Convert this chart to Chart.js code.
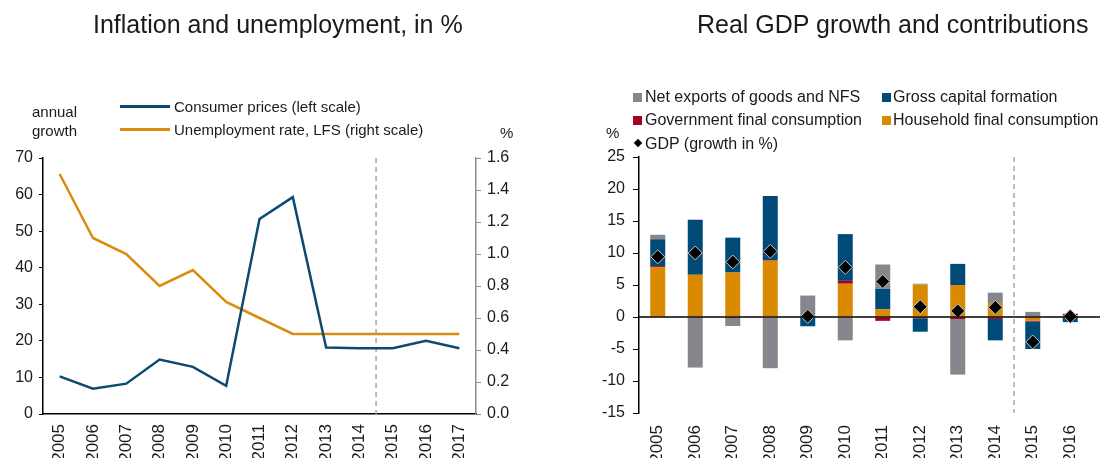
<!DOCTYPE html>
<html>
<head>
<meta charset="utf-8">
<script src="https://cdn.jsdelivr.net/npm/chart.js@4/dist/chart.umd.min.js"></script>
<style>
  body { margin: 0; background: #fff; font-family: "Liberation Sans", Arial, sans-serif; color: #1a1a1a; }
  #page { position: relative; width: 1100px; height: 458px; overflow: hidden; }
  .box { position: absolute; top: 0; height: 458px; }
  .txt { position: absolute; white-space: nowrap; line-height: 1; }
  .title { font-size: 25px; top: 12px; }
  .leg { font-size: 15px; }
  .leg2 { font-size: 16px; }
  .sw { position: absolute; width: 9px; height: 9px; }
  .ln { position: absolute; width: 50px; height: 3px; }
</style>
</head>
<body>
<div id="page">
  <div class="box" style="left:0;width:550px"><canvas id="inflationChart"></canvas></div>
  <div class="box" style="left:590px;width:510px"><canvas id="gdpChart"></canvas></div>

  <div class="txt title" style="left:93px">Inflation and unemployment, in %</div>
  <div class="txt title" style="left:697px">Real GDP growth and contributions</div>

  <!-- left legend -->
  <div class="txt leg" style="left:32px;top:102px;line-height:19px">annual<br>growth</div>
  <div class="ln" style="left:120px;top:105px;background:#0d4a70"></div>
  <div class="txt leg" style="left:174px;top:99px">Consumer prices (left scale)</div>
  <div class="ln" style="left:120px;top:128px;background:#d98c10"></div>
  <div class="txt leg" style="left:174px;top:122px">Unemployment rate, LFS (right scale)</div>
  <div class="txt leg" style="left:500px;top:125px">%</div>

  <!-- right legend -->
  <div class="sw" style="left:633px;top:93px;background:#86868c"></div>
  <div class="txt leg2" style="left:645px;top:89px">Net exports of goods and NFS</div>
  <div class="sw" style="left:882px;top:93px;background:#004a78"></div>
  <div class="txt leg2" style="left:893px;top:89px">Gross capital formation</div>
  <div class="sw" style="left:633px;top:116px;background:#a8001e"></div>
  <div class="txt leg2" style="left:645px;top:112px">Government final consumption</div>
  <div class="sw" style="left:882px;top:116px;background:#d98a00"></div>
  <div class="txt leg2" style="left:893px;top:112px">Household final consumption</div>
  <div class="sw" style="left:635px;top:140px;width:6px;height:6px;background:#000;transform:rotate(45deg)"></div>
  <div class="txt leg2" style="left:645px;top:136px">GDP (growth in %)</div>
  <div class="txt leg" style="left:606px;top:125px">%</div>
</div>

<script>
const years = ['2005','2006','2007','2008','2009','2010','2011','2012','2013','2014','2015','2016','2017'];
const consumerPrices = [10.3, 6.9, 8.3, 14.9, 12.9, 7.7, 53.3, 59.3, 18.2, 18.0, 18.0, 20.0, 18.0];
const unemployment = [1.5, 1.1, 1.0, 0.8, 0.9, 0.7, 0.6, 0.5, 0.5, 0.5, 0.5, 0.5, 0.5];

const gdpYears = ['2005','2006','2007','2008','2009','2010','2011','2012','2013','2014','2015','2016'];
const household = [7.8, 6.6, 6.95, 8.8, 0, 5.2, 1.2, 5.05, 5.0, 2.2, -0.6, 0.3];
const government = [0.15, 0, -0.15, 0.1, 0, 0.45, -0.6, -0.2, -0.35, -0.3, -0.1, 0.2];
const capital = [4.2, 8.6, 5.45, 10.0, -1.45, 7.3, 3.2, -2.1, 3.3, -3.35, -4.3, -0.8];
const netExports = [0.7, -7.9, -1.25, -8.0, 3.35, -3.65, 3.8, 0.15, -8.65, 1.6, 0.8, 0];
const gdpGrowth = [9.4, 10.0, 8.6, 10.25, 0.1, 7.75, 5.55, 1.6, 0.95, 1.5, -3.9, 0.1];

Chart.defaults.font.family = '"Liberation Sans", Arial, sans-serif';
Chart.defaults.color = '#1a1a1a';

// dashed line between 2014 and 2015
const forecastLine = {
  id: 'forecastLine',
  beforeDatasetsDraw(chart) {
    const x = chart.scales.x;
    const px = (x.getPixelForTick(9) + x.getPixelForTick(10)) / 2;
    const a = chart.chartArea;
    const c = chart.ctx;
    c.save();
    c.strokeStyle = '#a6a6a6';
    c.lineWidth = 1.5;
    c.setLineDash([5, 4]);
    c.beginPath();
    c.moveTo(px, a.top);
    c.lineTo(px, a.bottom);
    c.stroke();
    c.restore();
  }
};

const zeroLine = {
  id: 'zeroLine',
  afterDatasetsDraw(chart) {
    const y = chart.scales.y.getPixelForValue(0);
    const c = chart.ctx;
    c.save();
    c.strokeStyle = '#000';
    c.lineWidth = 1.5;
    c.beginPath();
    c.moveTo(chart.chartArea.left, y);
    c.lineTo(chart.width, y);
    c.stroke();
    c.restore();
  }
};

new Chart(document.getElementById('inflationChart'), {
  type: 'line',
  data: {
    labels: years,
    datasets: [{
      label: 'Consumer prices (left scale)',
      data: consumerPrices,
      borderColor: '#0d4a70',
      borderWidth: 2.5,
      pointRadius: 0,
      yAxisID: 'y'
    }, {
      label: 'Unemployment rate, LFS (right scale)',
      data: unemployment,
      borderColor: '#d98c10',
      borderWidth: 2.5,
      pointRadius: 0,
      yAxisID: 'y1'
    }]
  },
  options: {
    responsive: true,
    maintainAspectRatio: false,
    animation: false,
    layout: { padding: { top: 158, left: 0, right: 0, bottom: 0 } },
    plugins: { legend: { display: false }, tooltip: { enabled: false } },
    scales: {
      x: {
        offset: true,
        grid: { display: false },
        border: { color: '#000', width: 1.5 },
        ticks: { minRotation: 90, maxRotation: 90, padding: 2, font: { size: 17 } },
        afterFit: (s) => { s.height = 44; }
      },
      y: {
        position: 'left',
        min: 0, max: 70,
        ticks: { stepSize: 10, padding: 6, font: { size: 16 } },
        grid: { drawOnChartArea: false, tickLength: 4, color: '#000' },
        border: { color: '#000', width: 1.5 },
        afterFit: (s) => { s.width = 43; }
      },
      y1: {
        position: 'right',
        min: 0, max: 1.6,
        ticks: { stepSize: 0.2, padding: 6, font: { size: 16 }, callback: (v) => v.toFixed(1) },
        grid: { drawOnChartArea: false, tickLength: 5, color: '#8c8c8c' },
        border: { color: '#8c8c8c', width: 1.5 },
        afterFit: (s) => { s.width = 74; }
      }
    }
  },
  plugins: [forecastLine]
});

new Chart(document.getElementById('gdpChart'), {
  type: 'bar',
  data: {
    labels: gdpYears,
    datasets: [
      { type: 'line', label: 'GDP (growth in %)', data: gdpGrowth, showLine: false, order: 0, stack: 'gdp',
        pointStyle: 'rectRot', pointRadius: 7, backgroundColor: '#000', borderColor: '#c8c8c8', borderWidth: 1 },
      { label: 'Household final consumption', data: household, backgroundColor: '#d98a00', order: 1, stack: 'c' },
      { label: 'Government final consumption', data: government, backgroundColor: '#a8001e', order: 1, stack: 'c' },
      { label: 'Gross capital formation', data: capital, backgroundColor: '#004a78', order: 1, stack: 'c' },
      { label: 'Net exports of goods and NFS', data: netExports, backgroundColor: '#86868c', order: 1, stack: 'c' }
    ]
  },
  options: {
    responsive: true,
    maintainAspectRatio: false,
    animation: false,
    layout: { padding: { top: 157, left: 0, right: 11, bottom: 0 } },
    plugins: { legend: { display: false }, tooltip: { enabled: false } },
    datasets: { bar: { categoryPercentage: 1, barPercentage: 0.4 } },
    scales: {
      x: {
        stacked: true,
        grid: { display: false },
        border: { display: false },
        ticks: { minRotation: 90, maxRotation: 90, padding: 4, font: { size: 17 } },
        afterFit: (s) => { s.height = 45; }
      },
      y: {
        stacked: true,
        min: -15, max: 25,
        ticks: { stepSize: 5, padding: 8, font: { size: 16 } },
        grid: { drawOnChartArea: false, tickLength: 6, color: '#000' },
        border: { color: '#000', width: 1.5 },
        afterFit: (s) => { s.width = 49; }
      }
    }
  },
  plugins: [forecastLine, zeroLine]
});
</script>
</body>
</html>
